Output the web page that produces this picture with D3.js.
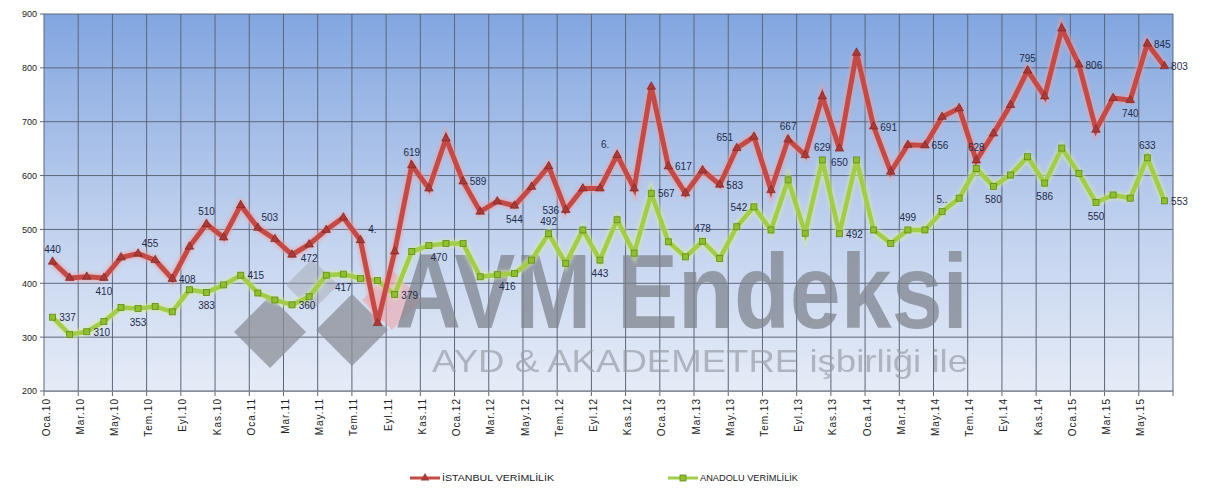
<!DOCTYPE html>
<html><head><meta charset="utf-8">
<script src="https://cdnjs.cloudflare.com/ajax/libs/d3/7.8.5/d3.min.js"></script>
<style>body{margin:0;background:#fff;} svg{display:block;font-family:"Liberation Sans",Arial,sans-serif;}</style>
</head><body><svg id="c" width="1213" height="492"></svg>
<script>
const monthNames = ["Oca","Şub","Mar","Nis","May","Haz","Tem","Ağu","Eyl","Eki","Kas","Ara"];
const years = ["10","11","12","13","14","15"];
const categories = [];
years.forEach(y => monthNames.forEach(m => categories.push(m + "." + y)));
categories.length = 66; // Oca.10 .. Haz.15

const istanbul = [440,410,412,410,448,455,443,408,468,510,485,545,503,482,453,472,499,522,480,326,
  459,619,576,669,589,533,552,544,579,617,536,576,576,638,576,765,617,567,610,583,
  651,672,573,667,638,747,650,828,691,607,657,656,709,725,628,678,731,795,747,873,
  806,685,744,740,845,803];
const anadolu = [337,305,310,329,355,353,357,347,388,383,397,415,382,369,360,375,415,417,409,405,
  379,459,470,474,474,412,416,418,443,492,437,499,443,518,456,567,477,449,478,446,
  505,542,499,592,493,629,492,629,499,474,499,499,533,558,613,580,601,635,586,651,
  604,550,564,558,633,553];
const yTicks = [200,300,400,500,600,700,800,900];
const seriesNames = ["İSTANBUL VERİMLİLİK","ANADOLU VERİMLİLİK"];

const istanbulLabels = [[0,"440","t"],[3,"410","b"],[5,"455","tr"],[7,"408","r"],[9,"510","t"],[12,"503","tr"],
  [15,"472","b"],[18,"4.","tr"],[21,"619","t"],[24,"589","r"],[27,"544","b"],[30,"536","l"],[33,"6.","tl"],
  [36,"617","r"],[39,"583","r"],[40,"651","tl"],[43,"667","t"],[46,"650","b"],[48,"691","r"],[51,"656","r"],
  [54,"628","t"],[57,"795","t"],[60,"806","r"],[63,"740","b"],[64,"845","r"],[65,"803","r"]];
const anadoluLabels = [[0,"337","r"],[2,"310","r"],[5,"353","b"],[9,"383","b"],[11,"415","r"],[14,"360","r"],
  [17,"417","b"],[20,"379","r"],[22,"470","br"],[26,"416","br"],[29,"492","t"],[32,"443","b"],[35,"567","r"],
  [38,"478","t"],[41,"542","l"],[45,"629","t"],[46,"492","r"],[50,"499","t"],[52,"5..","t"],[55,"580","b"],
  [58,"586","b"],[61,"550","b"],[64,"633","t"],[65,"553","r"]];

const svg = d3.select("#c");
const L = 44, R = 1173, T = 14, B = 391;
const x = d3.scaleBand().domain(categories).range([L, R]).paddingInner(0).paddingOuter(0);
const y = d3.scaleLinear().domain([200, 900]).range([B, T]);
const cx = c => x(c) + x.bandwidth() / 2;

const defs = svg.append("defs");
const g = defs.append("linearGradient").attr("id","bg").attr("x1",0).attr("y1",0).attr("x2",0).attr("y2",1);
g.append("stop").attr("offset","0%").attr("stop-color","#82a6e0");
g.append("stop").attr("offset","55%").attr("stop-color","#bfd0ee");
g.append("stop").attr("offset","100%").attr("stop-color","#e6ecf7");
const f = defs.append("filter").attr("id","glow").attr("x","-5%").attr("y","-20%").attr("width","110%").attr("height","140%");
f.append("feGaussianBlur").attr("stdDeviation",1.5);

svg.append("rect").attr("x",L).attr("y",T).attr("width",R-L).attr("height",B-T).attr("fill","url(#bg)");

// gridlines
svg.append("g").selectAll("line").data(yTicks).join("line")
  .attr("x1",L-4).attr("x2",R).attr("y1",d=>y(d)).attr("y2",d=>y(d))
  .attr("stroke","#5d6678").attr("stroke-width",1);
const vb = categories.filter((c,i)=>i%2===0).map(c=>x(c)).concat([R]);
svg.append("g").selectAll("line").data(vb).join("line")
  .attr("x1",d=>d).attr("x2",d=>d).attr("y1",T).attr("y2",B+5)
  .attr("stroke","#5d6678").attr("stroke-width",1);

// watermark
const wm = svg.append("g");
const diamonds = [[270,332,36,"#8b8f98",0.75],[312,285,26,"#a0a4ad",0.45],[352,330,36,"#8b8f98",0.75],[392,300,30,"#f0a0a8",0.55]];
wm.selectAll("path").data(diamonds).join("path")
  .attr("d",d=>`M${d[0]},${d[1]-d[2]}L${d[0]+d[2]},${d[1]}L${d[0]},${d[1]+d[2]}L${d[0]-d[2]},${d[1]}Z`)
  .attr("fill",d=>d[3]).attr("opacity",d=>d[4]);
wm.append("text").attr("x",395).attr("y",328).attr("font-size",106).attr("font-weight","bold")
  .attr("textLength",573).attr("lengthAdjust","spacingAndGlyphs")
  .attr("fill","#7d828c").attr("opacity",0.72).text("AVM Endeksi");
wm.append("text").attr("x",432).attr("y",372).attr("font-size",32)
  .attr("textLength",536).attr("lengthAdjust","spacingAndGlyphs")
  .attr("fill","#9a9fa8").attr("opacity",0.7).text("AYD & AKADEMETRE işbirliği ile");

// y axis
const ya = svg.append("g").attr("transform",`translate(${L},0)`)
  .call(d3.axisLeft(y).tickValues(yTicks).tickSize(0).tickPadding(7));
ya.select(".domain").remove();
ya.selectAll("text").attr("font-size",9).attr("fill","#222");

// x axis
const xa = svg.append("g").attr("transform",`translate(0,${B})`)
  .call(d3.axisBottom(x).tickValues(categories.filter((c,i)=>i%2===0)).tickSize(0).tickPadding(0));
xa.select(".domain").attr("stroke","#8a8f99");
xa.selectAll("text").attr("font-size",10).attr("letter-spacing","1px").attr("fill","#222")
  .attr("text-anchor","end").attr("transform","translate(-3,7) rotate(-90)").attr("dy","0");

// lines
const line = d3.line().x((d,i)=>cx(categories[i])).y(d=>y(d));
function drawSeries(data, color, glow, width) {
  svg.append("path").datum(data).attr("d",line).attr("fill","none")
    .attr("stroke",glow).attr("stroke-width",width+4).attr("opacity",0.55).attr("filter","url(#glow)")
    .attr("stroke-linejoin","miter");
  svg.append("path").datum(data).attr("d",line).attr("fill","none")
    .attr("stroke",color).attr("stroke-width",width).attr("stroke-linejoin","miter");
}
drawSeries(anadolu, "#a2cc4a", "#d9ec9a", 4.5);
drawSeries(istanbul, "#c24a47", "#f0a0a0", 5);

// markers
svg.append("g").selectAll("rect").data(anadolu).join("rect")
  .attr("x",(d,i)=>cx(categories[i])-3).attr("y",d=>y(d)-3).attr("width",6).attr("height",6)
  .attr("fill","#8fbf2e").attr("stroke","#5f8a1a").attr("stroke-width",0.8);
const tri = d3.symbol().type(d3.symbolTriangle).size(32);
svg.append("g").selectAll("path").data(istanbul).join("path")
  .attr("d",tri).attr("transform",(d,i)=>`translate(${cx(categories[i])},${y(d)})`)
  .attr("fill","#a83a38").attr("stroke","#7a2020").attr("stroke-width",0.6);

// data labels
const off = {t:[0,-9],b:[0,17],r:[15,4],l:[-15,4],tr:[12,-7],tl:[-12,-7],br:[10,15],bl:[-10,15]};
function drawLabels(labels, data) {
  svg.append("g").selectAll("text").data(labels).join("text")
    .attr("x",d=>cx(categories[d[0]])+off[d[2]][0]).attr("y",d=>y(data[d[0]])+off[d[2]][1])
    .attr("text-anchor","middle").attr("font-size",10).attr("fill","#1f2b4a").text(d=>d[1]);
}
drawLabels(istanbulLabels, istanbul);
drawLabels(anadoluLabels, anadolu);

// legend
const lg = svg.append("g").attr("font-size",9).attr("fill","#222");
lg.append("line").attr("x1",410).attr("x2",440).attr("y1",478).attr("y2",478).attr("stroke","#c24a47").attr("stroke-width",3);
lg.append("path").attr("d",tri).attr("transform","translate(425,478)").attr("fill","#a83a38");
lg.append("text").attr("x",442).attr("y",481).attr("textLength",112).attr("lengthAdjust","spacingAndGlyphs").text(seriesNames[0]);
lg.append("line").attr("x1",668).attr("x2",698).attr("y1",478).attr("y2",478).attr("stroke","#a2cc4a").attr("stroke-width",3);
lg.append("rect").attr("x",680).attr("y",475).attr("width",6).attr("height",6).attr("fill","#8fbf2e").attr("stroke","#5f8a1a").attr("stroke-width",0.8);
lg.append("text").attr("x",700).attr("y",481).attr("textLength",98).attr("lengthAdjust","spacingAndGlyphs").text(seriesNames[1]);
</script></body></html>
